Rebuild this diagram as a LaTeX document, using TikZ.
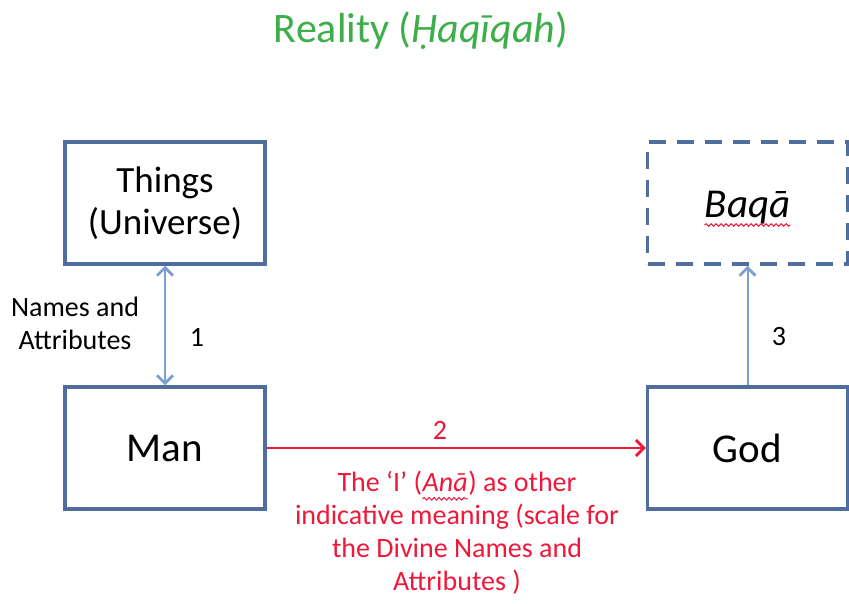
\documentclass[tikz,border=0pt]{standalone}
\usepackage{fontspec}
\setmainfont{Carlito}
\usetikzlibrary{arrows.meta,decorations.pathmorphing}

\definecolor{boxblue}{RGB}{79,110,158}
\definecolor{linkblue}{RGB}{125,158,208}
\definecolor{linkred}{RGB}{238,24,58}
\definecolor{titlegreen}{RGB}{60,174,74}

% red wavy underline under a word
\newcommand\spellwave[1]{\tikz[baseline=(w.base)]{\node [inner sep=0pt, minimum width=0pt, minimum height=0pt, draw=none] (w) {#1};
    \draw [linkred, line width=1pt, solid, decorate, decoration={snake, segment length=5pt, amplitude=1.3pt}]
      ([yshift=-7pt]w.base west) -- ([yshift=-7pt]w.base east);}}

\begin{document}
\begin{tikzpicture}[x=1pt, y=-1pt,
    box/.style={draw=boxblue, line width=3.5pt, minimum width=200pt, minimum height=122pt, inner sep=0pt, align=center},
    bigtext/.style={font=\fontsize{41}{46}\selectfont},
    smalltext/.style={font=\fontsize{28}{33}\selectfont, align=center},
    barb/.tip={Straight Barb[length=8pt, width=16pt, line width=2.8pt]}]
    \useasboundingbox (0,0) rectangle (849,604);

    \node [font=\fontsize{42}{48}\selectfont, text=titlegreen, anchor=base] (title) at (421,43) {Reality (\textit{Ḥaqīqah})};

    \node [box, font=\fontsize{37}{42}\selectfont] (things) at (165,203) {Things\\(Universe)};
    \node [box, bigtext] (man) at (165,448) {Man};
    \node [box, bigtext] (god) at (747.5,448) {God};
    \node [box, dash pattern=on 17pt off 11pt] (baqa) at (747.5,203) {};
    \node [font=\fontsize{41}{46}\selectfont\itshape, anchor=base] (baqatext) at (747.5,218) {\spellwave{Baqā}};

    \draw [linkblue, line width=2pt, barb-barb] (things.south) -- (man.north) ;
    \draw [linkred, line width=1.5pt, -barb] (man.east) -- (god.west) ;
    \draw [linkblue, line width=2pt, -barb] (god.north) -- (baqa.south) ;

    \node [smalltext] (names) at (75,323) {Names and\\Attributes};
    \node [smalltext] (one) at (197,337) {1};
    \node [smalltext, text=linkred] (two) at (440,430) {2};
    \node [smalltext] (three) at (779,337) {3};
    \node [smalltext, text=linkred] (meaning) at (457,533) {The ‘I’ (\textit{\spellwave{Anā}}) as other\\indicative meaning (scale for\\the Divine Names and\\Attributes )};
\end{tikzpicture}
\end{document}
